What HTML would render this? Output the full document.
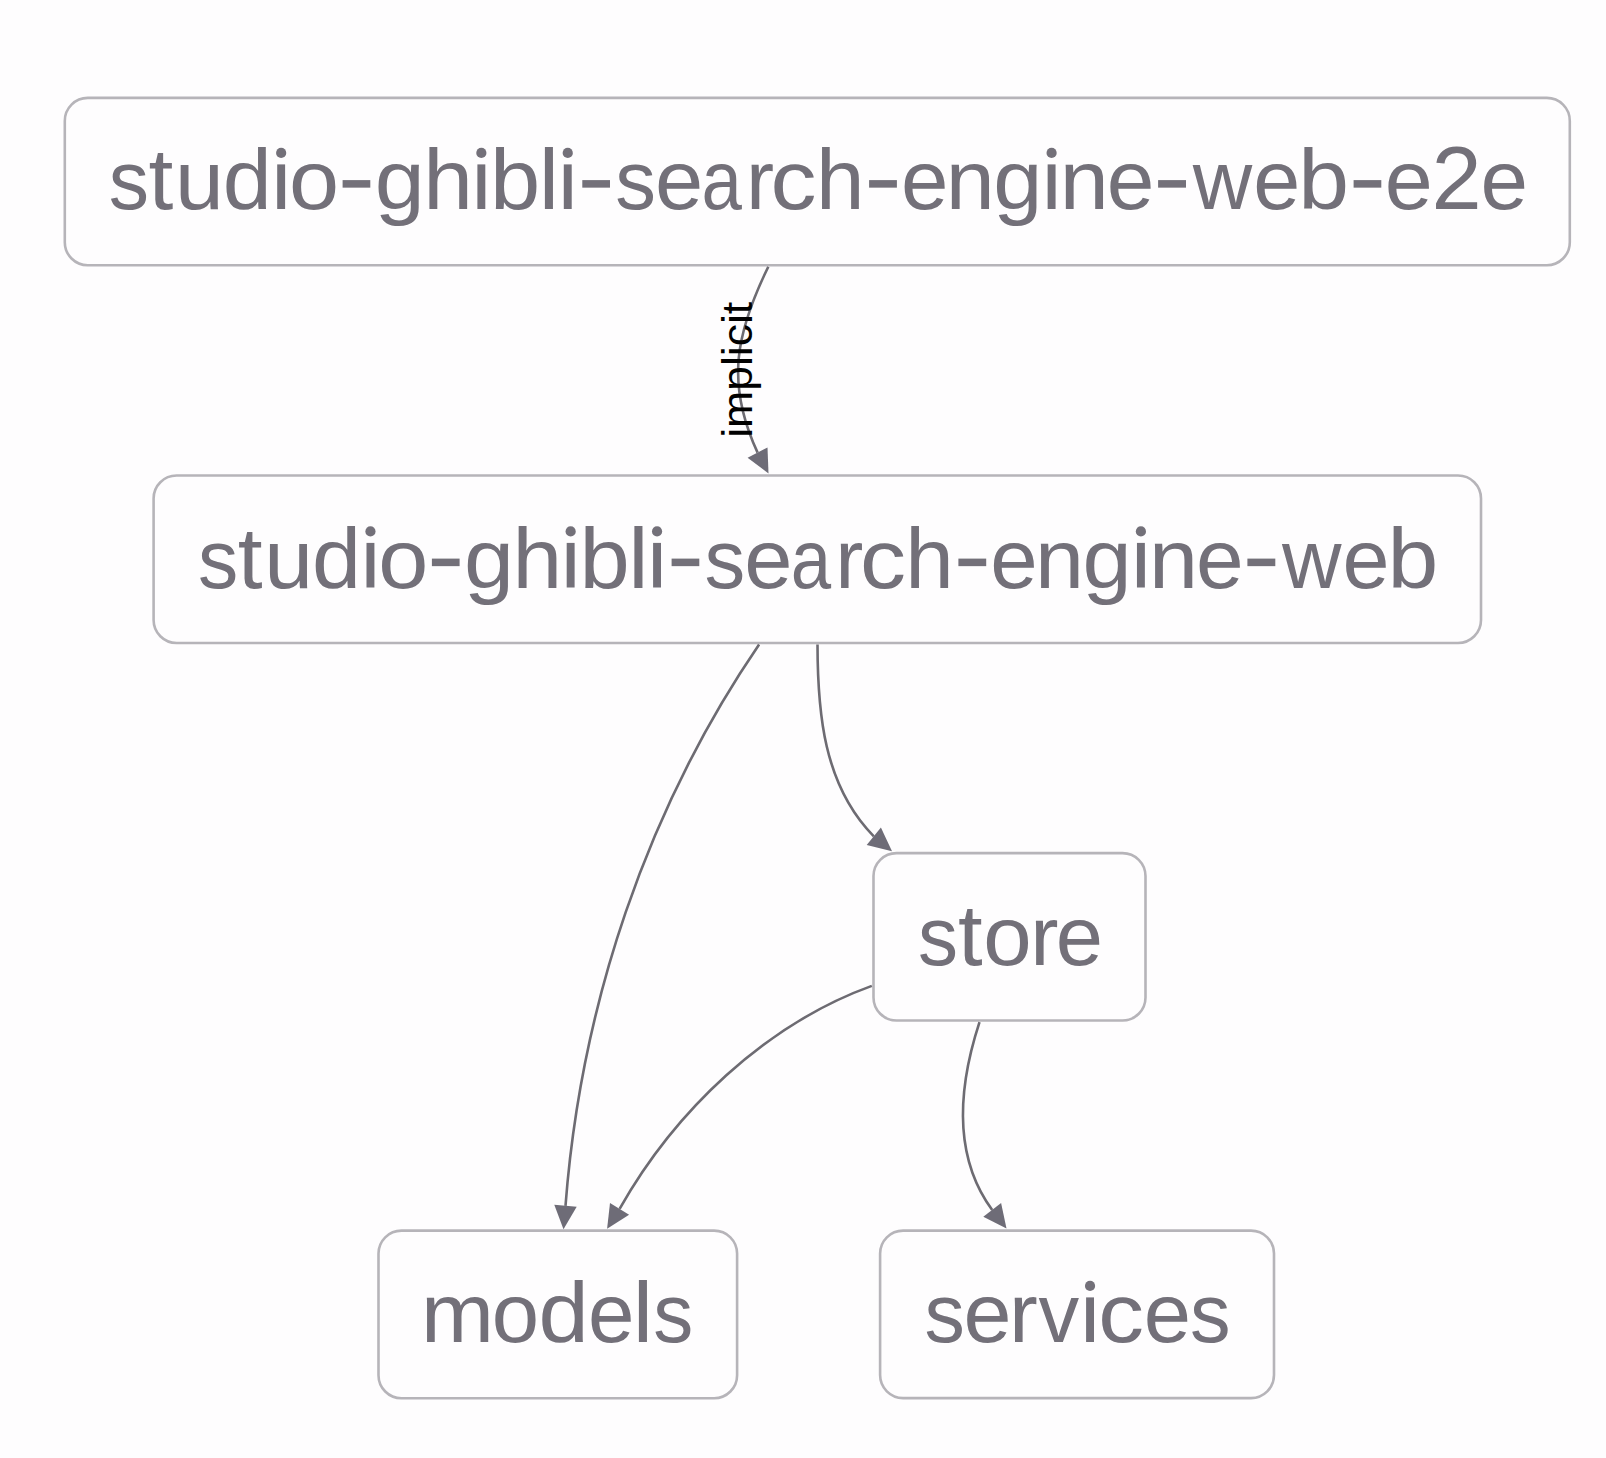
<!DOCTYPE html>
<html><head><meta charset="utf-8">
<style>
html,body{margin:0;padding:0;background:#fefdfe;width:1606px;height:1458px;overflow:hidden;}
svg{position:absolute;left:0;top:0;display:block;}
text{font-family:"Liberation Sans",sans-serif;}
</style></head>
<body>
<svg width="1606" height="1458" viewBox="0 0 1606 1458">
<g fill="#fefdfe" stroke="#b6b4b9" stroke-width="2.6">
<rect x="64.8" y="97.9" width="1505.0" height="167.3" rx="23" ry="23"/>
<rect x="153.6" y="475.5" width="1327.4" height="167.5" rx="23" ry="23"/>
<rect x="873.5" y="853.1" width="272.0" height="167.4" rx="23" ry="23"/>
<rect x="378.5" y="1230.6" width="358.6" height="167.6" rx="23" ry="23"/>
<rect x="880.1" y="1230.6" width="393.9" height="167.5" rx="23" ry="23"/>
</g>
<g fill="none" stroke="#6d6b72" stroke-width="2.6">
<path d="M768.3 266.7 C736.0 332.9 725.3 383.0 757.6 452.6"/>
<path d="M759.1 644.6 C646.1 810.1 580.7 1006.3 565.5 1205.8"/>
<path d="M817.5 644.4 C817.6 712.5 823.5 785.2 873.8 836.3"/>
<path d="M871.8 985.9 C765.0 1024.6 674.8 1111.3 619.6 1208.9"/>
<path d="M979.5 1022.1 C959.3 1083.9 951.5 1154.5 992.2 1210.0"/>
</g>
<g fill="#6e6c77">
<polygon points="768.5,473.4 747.6,457.8 767.5,447.4"/>
<polygon points="563.5,1229.2 554.3,1204.8 576.7,1206.8"/>
<polygon points="892.0,851.2 866.7,845.0 880.9,827.6"/>
<polygon points="607.1,1228.8 610.0,1202.9 629.1,1214.8"/>
<polygon points="1006.5,1228.6 983.3,1216.8 1001.1,1203.1"/>
</g>
<g fill="#737079" font-size="87">
<g aria-label="studio-ghibli-search-engine-web-e2e">
<text transform="translate(108.76 209.0) scale(0.925 0.960)">s</text>
<text transform="translate(148.45 209.0) scale(1.026 0.994)">t</text>
<text transform="translate(175.00 209.0) scale(1.009 0.960)">u</text>
<text transform="translate(222.70 209.0) scale(1.012 0.975)">d</text>
<rect x="277.20" y="164.40" width="7.9" height="44.6"/><circle cx="281.15" cy="152.90" r="5.1"/>
<text transform="translate(288.92 209.0) scale(1.035 0.960)">o</text>
<rect x="342.60" y="180.10" width="27.70" height="7.55"/>
<text transform="translate(374.73 209.0) scale(1.033 0.960)">g</text>
<text transform="translate(423.20 209.0) scale(1.027 0.975)">h</text>
<rect x="477.40" y="164.40" width="7.9" height="44.6"/><circle cx="481.35" cy="152.90" r="5.1"/>
<text transform="translate(490.08 209.0) scale(1.038 0.975)">b</text>
<text transform="translate(538.84 209.0) scale(1.050 0.975)">l</text>
<rect x="563.80" y="164.40" width="7.9" height="44.6"/><circle cx="567.75" cy="152.90" r="5.1"/>
<rect x="582.30" y="180.10" width="27.70" height="7.55"/>
<text transform="translate(615.23 209.0) scale(0.936 0.960)">s</text>
<text transform="translate(655.02 209.0) scale(0.997 0.960)">e</text>
<text transform="translate(701.42 209.0) scale(0.835 0.960)">a</text>
<text transform="translate(745.90 209.0) scale(0.970 0.960)">r</text>
<text transform="translate(770.60 209.0) scale(1.056 0.960)">c</text>
<text transform="translate(816.05 209.0) scale(1.003 0.975)">h</text>
<rect x="869.10" y="180.10" width="27.80" height="7.55"/>
<text transform="translate(900.88 209.0) scale(0.980 0.960)">e</text>
<text transform="translate(945.75 209.0) scale(1.012 0.960)">n</text>
<text transform="translate(993.19 209.0) scale(1.015 0.960)">g</text>
<rect x="1047.65" y="164.40" width="7.9" height="44.6"/><circle cx="1051.60" cy="152.90" r="5.1"/>
<text transform="translate(1059.75 209.0) scale(1.012 0.960)">n</text>
<text transform="translate(1106.76 209.0) scale(0.985 0.960)">e</text>
<rect x="1158.10" y="180.10" width="27.90" height="7.55"/>
<text transform="translate(1192.72 209.0) scale(0.947 0.960)">w</text>
<text transform="translate(1253.31 209.0) scale(0.972 0.960)">e</text>
<text transform="translate(1298.21 209.0) scale(1.050 0.975)">b</text>
<rect x="1353.60" y="180.10" width="27.70" height="7.55"/>
<text transform="translate(1384.83 209.0) scale(0.992 0.960)">e</text>
<text transform="translate(1431.46 209.0) scale(1.037 1.029)">2</text>
<text transform="translate(1480.47 209.0) scale(0.982 0.960)">e</text>
</g>
<g aria-label="studio-ghibli-search-engine-web">
<text transform="translate(198.06 587.5) scale(0.925 0.960)">s</text>
<text transform="translate(237.75 587.5) scale(1.026 0.994)">t</text>
<text transform="translate(264.30 587.5) scale(1.009 0.960)">u</text>
<text transform="translate(312.00 587.5) scale(1.012 0.975)">d</text>
<rect x="366.50" y="542.90" width="7.9" height="44.6"/><circle cx="370.45" cy="531.40" r="5.1"/>
<text transform="translate(378.22 587.5) scale(1.035 0.960)">o</text>
<rect x="431.90" y="558.60" width="27.70" height="7.55"/>
<text transform="translate(464.03 587.5) scale(1.033 0.960)">g</text>
<text transform="translate(512.50 587.5) scale(1.027 0.975)">h</text>
<rect x="566.70" y="542.90" width="7.9" height="44.6"/><circle cx="570.65" cy="531.40" r="5.1"/>
<text transform="translate(579.38 587.5) scale(1.038 0.975)">b</text>
<text transform="translate(628.14 587.5) scale(1.050 0.975)">l</text>
<rect x="653.10" y="542.90" width="7.9" height="44.6"/><circle cx="657.05" cy="531.40" r="5.1"/>
<rect x="671.60" y="558.60" width="27.70" height="7.55"/>
<text transform="translate(704.53 587.5) scale(0.936 0.960)">s</text>
<text transform="translate(744.32 587.5) scale(0.997 0.960)">e</text>
<text transform="translate(790.72 587.5) scale(0.835 0.960)">a</text>
<text transform="translate(835.20 587.5) scale(0.970 0.960)">r</text>
<text transform="translate(859.90 587.5) scale(1.056 0.960)">c</text>
<text transform="translate(905.35 587.5) scale(1.003 0.975)">h</text>
<rect x="958.40" y="558.60" width="27.80" height="7.55"/>
<text transform="translate(990.18 587.5) scale(0.980 0.960)">e</text>
<text transform="translate(1035.05 587.5) scale(1.012 0.960)">n</text>
<text transform="translate(1082.49 587.5) scale(1.015 0.960)">g</text>
<rect x="1136.95" y="542.90" width="7.9" height="44.6"/><circle cx="1140.90" cy="531.40" r="5.1"/>
<text transform="translate(1149.05 587.5) scale(1.012 0.960)">n</text>
<text transform="translate(1196.06 587.5) scale(0.985 0.960)">e</text>
<rect x="1247.40" y="558.60" width="27.90" height="7.55"/>
<text transform="translate(1282.02 587.5) scale(0.947 0.960)">w</text>
<text transform="translate(1342.61 587.5) scale(0.972 0.960)">e</text>
<text transform="translate(1387.51 587.5) scale(1.050 0.975)">b</text>
</g>
<g aria-label="store">
<text transform="translate(917.97 964.5) scale(0.920 0.960)">s</text>
<text transform="translate(958.06 964.5) scale(1.017 0.994)">t</text>
<text transform="translate(983.34 964.5) scale(1.001 0.960)">o</text>
<text transform="translate(1030.37 964.5) scale(0.975 0.960)">r</text>
<text transform="translate(1055.79 964.5) scale(0.977 0.960)">e</text>
</g>
<g aria-label="models">
<text transform="translate(420.88 1342.0) scale(1.007 0.960)">m</text>
<text transform="translate(491.82 1342.0) scale(0.979 0.960)">o</text>
<text transform="translate(538.51 1342.0) scale(1.038 0.975)">d</text>
<text transform="translate(588.05 1342.0) scale(0.960 0.960)">e</text>
<text transform="translate(632.74 1342.0) scale(1.050 0.975)">l</text>
<text transform="translate(653.27 1342.0) scale(0.920 0.960)">s</text>
</g>
<g aria-label="services">
<text transform="translate(924.45 1342.0) scale(0.928 0.960)">s</text>
<text transform="translate(963.53 1342.0) scale(0.992 0.960)">e</text>
<text transform="translate(1009.06 1342.0) scale(0.993 0.960)">r</text>
<text transform="translate(1038.62 1342.0) scale(0.935 0.960)">v</text>
<rect x="1086.10" y="1297.40" width="7.9" height="44.6"/><circle cx="1090.05" cy="1285.90" r="5.1"/>
<text transform="translate(1098.32 1342.0) scale(1.050 0.960)">c</text>
<text transform="translate(1143.69 1342.0) scale(0.977 0.960)">e</text>
<text transform="translate(1189.94 1342.0) scale(0.933 0.960)">s</text>
</g>
</g>
<text transform="translate(752.1,369.8) rotate(-90) scale(1 0.955)" font-size="44.5" text-anchor="middle" fill="#000">implicit</text>
</svg>
</body></html>
